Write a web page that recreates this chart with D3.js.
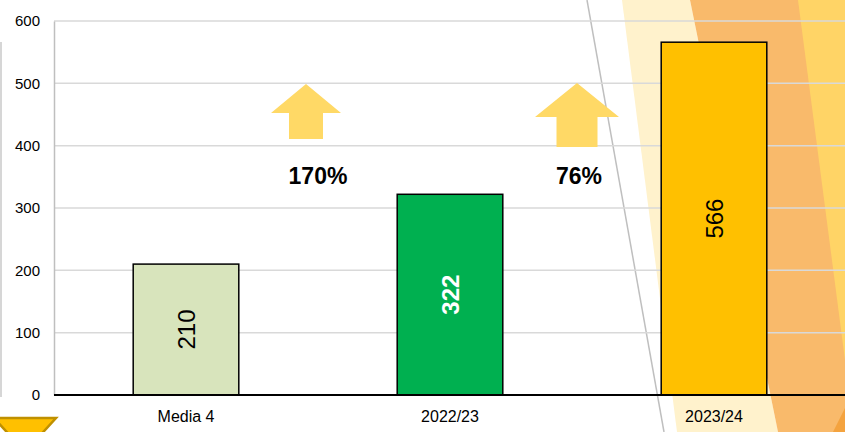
<!DOCTYPE html>
<html><head><meta charset="utf-8">
<script src="https://cdn.jsdelivr.net/npm/d3@7"></script>
<style>html,body{margin:0;padding:0;background:#fff;overflow:hidden}svg{display:block}text{font-family:"Liberation Sans",Arial,sans-serif}</style>
</head><body>
<svg id="c" width="845" height="432"></svg>
<script>
const categories = ["Media 4", "2022/23", "2023/24"];
const values = [210, 322, 566];
const barColors = ["#D8E4BC", "#00B050", "#FFC000"];
const labelColors = ["#000", "#fff", "#000"];
const yTicks = [0, 100, 200, 300, 400, 500, 600];
const growthLabels = ["170%", "76%"];

const W = 845, H = 432;
const m = {left: 54, top: 21, right: -1, bottom: 37};
const svg = d3.select("#c");

const x = d3.scaleBand().domain(categories).range([m.left, W - m.right]).paddingInner(0.6).paddingOuter(0.3);
const y = d3.scaleLinear().domain([0, 600]).range([H - m.bottom, m.top]);

// decorative background
const bg = svg.append("g");
bg.append("polygon").attr("points", "622,0 690,0 778,432 677,432").attr("fill", "#FFF2CC");
bg.append("polygon").attr("points", "690,0 845,0 845,432 778,432").attr("fill", "#F9BA6B");
bg.append("polygon").attr("points", "798,0 845,0 845,360").attr("fill", "#FFD466");
bg.append("polygon").attr("points", "845,408 845,432 833,432").attr("fill", "#F4A33F");
bg.append("line").attr("x1", 587).attr("y1", 0).attr("x2", 664).attr("y2", 432).attr("stroke", "#BFBFBF").attr("stroke-width", 1.5);
bg.append("line").attr("x1", 1).attr("y1", 42).attr("x2", 1).attr("y2", 397).attr("stroke", "#C8C8C8").attr("stroke-width", 1.5);
bg.append("polygon").attr("points", "-6,418 56,418 25,452").attr("fill", "#FFC000").attr("stroke", "#BF9000").attr("stroke-width", 2.5);

// gridlines
svg.append("g").selectAll("line").data(yTicks.filter(d => d > 0)).join("line")
  .attr("x1", m.left).attr("x2", W).attr("y1", d => y(d)).attr("y2", d => y(d))
  .attr("stroke", "#D9D9D9").attr("stroke-width", 1.5);

// y axis
const ya = svg.append("g").attr("transform", `translate(${m.left},0)`)
  .call(d3.axisLeft(y).tickValues(yTicks).tickSize(0).tickPadding(14));
ya.select(".domain").attr("stroke", "#BFBFBF").attr("stroke-width", 1.5);
ya.selectAll("text").attr("font-size", 15).attr("fill", "#000").attr("font-family", "Liberation Sans, Arial, sans-serif");

// bars
svg.append("g").selectAll("rect").data(values).join("rect")
  .attr("x", (d, i) => x(categories[i])).attr("width", x.bandwidth())
  .attr("y", d => y(d)).attr("height", d => y(0) - y(d))
  .attr("fill", (d, i) => barColors[i]).attr("stroke", "#000").attr("stroke-width", 1.5);

// bar labels
svg.append("g").selectAll("text").data(values).join("text")
  .attr("transform", (d, i) => `translate(${x(categories[i]) + x.bandwidth() / 2},${(y(d) + y(0)) / 2}) rotate(-90)`)
  .attr("text-anchor", "middle").attr("dy", "0.36em")
  .attr("font-size", 24).attr("font-weight", (d, i) => i === 1 ? "bold" : "normal")
  .attr("fill", (d, i) => labelColors[i]).text(d => d);

// x axis
const xa = svg.append("g").attr("transform", `translate(0,${y(0)})`)
  .call(d3.axisBottom(x).tickSize(0).tickPadding(16));
xa.select(".domain").attr("stroke", "#000").attr("stroke-width", 2).attr("d", `M${m.left},0H${W}`);
xa.selectAll("text").attr("font-size", 16).attr("fill", "#000").attr("font-family", "Liberation Sans, Arial, sans-serif");

// growth arrows and labels
const mids = [0, 1].map(i => (x(categories[i]) + x(categories[i + 1]) + x.bandwidth()) / 2);
const arrows = [
  {cx: mids[0] - 12, tip: 84, base: 113, bottom: 139, hw: 35, sw: 17},
  {cx: mids[1] - 5, tip: 83, base: 117, bottom: 147, hw: 42, sw: 20.5}
];
svg.append("g").selectAll("polygon").data(arrows).join("polygon")
  .attr("points", a => [[a.cx, a.tip], [a.cx + a.hw, a.base], [a.cx + a.sw, a.base], [a.cx + a.sw, a.bottom],
    [a.cx - a.sw, a.bottom], [a.cx - a.sw, a.base], [a.cx - a.hw, a.base]].map(p => p.join(",")).join(" "))
  .attr("fill", "#FFD966");
svg.append("g").selectAll("text").data(growthLabels).join("text")
  .attr("x", (d, i) => mids[i] - (i === 0 ? 0 : 3)).attr("y", 184)
  .attr("text-anchor", "middle").attr("font-size", 23).attr("font-weight", "bold").attr("fill", "#000")
  .text(d => d);
</script>
</body></html>
